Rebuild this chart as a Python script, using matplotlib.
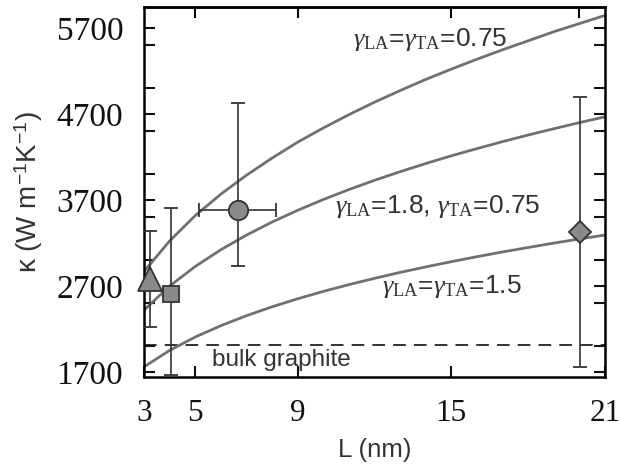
import matplotlib
matplotlib.use("Agg")
import matplotlib.pyplot as plt
from matplotlib.ticker import MultipleLocator

plt.rcParams['font.family'] = ['Liberation Sans', 'DejaVu Sans']
plt.rcParams['mathtext.fontset'] = 'custom'
plt.rcParams['mathtext.rm'] = 'Liberation Serif'
plt.rcParams['mathtext.it'] = 'Liberation Serif:italic'
plt.rcParams['mathtext.sf'] = 'Liberation Sans'

# model curves
L = [3, 4, 5, 6, 7, 8, 9, 10, 11, 12, 13, 14, 15, 16, 17, 18, 19, 20, 21]
k_075 = [2870, 3225, 3520, 3770, 3990, 4190, 4375, 4540, 4695, 4840,
         4975, 5105, 5225, 5340, 5450, 5555, 5660, 5755, 5850]
k_18 = [2420, 2700, 2928, 3123, 3293, 3445, 3582, 3707, 3823, 3931,
        4031, 4126, 4216, 4300, 4381, 4458, 4531, 4602, 4670]
k_15 = [1760, 1951, 2107, 2239, 2355, 2459, 2552, 2638, 2717, 2790,
        2859, 2923, 2984, 3042, 3097, 3149, 3200, 3248, 3294]

k_bulk = 2010

# experiments
tri_L, tri_k, tri_err = 3.22, 2780, 560
sq_L, sq_k, sq_lo, sq_hi = 4.04, 2610, 950, 1000
ci_L, ci_k, ci_xerr, ci_lo, ci_hi = 6.65, 3585, 1.5, 650, 1240
di_L, di_k, di_err = 20.02, 3330, 1575

fig = plt.figure(figsize=(6.2, 4.66), dpi=100)
ax = fig.add_axes([0.2323, 0.1916, 0.7435, 0.7934])

curve_col = '#707070'
for k in (k_075, k_18, k_15):
    ax.plot(L, k, color=curve_col, lw=2.0, zorder=2)

ax.axhline(k_bulk, color='#222222', lw=1.3, ls=(0, (7, 4.5)), zorder=1)

ebar = dict(color='#333333', elinewidth=1.2, capsize=5, capthick=1.2,
            mfc='#8a8a8a', mec='#333333', mew=1.3, zorder=4, clip_on=False)
ax.errorbar(tri_L, tri_k, yerr=tri_err, fmt='^', ms=17, **ebar)
ax.errorbar(sq_L, sq_k, yerr=[[sq_lo], [sq_hi]], fmt='s', ms=12, **ebar)
ax.errorbar(ci_L, ci_k, xerr=ci_xerr, yerr=[[ci_lo], [ci_hi]], fmt='o', ms=14, **ebar)
ax.errorbar(di_L, di_k, yerr=di_err, fmt='D', ms=11.5, **ebar)

txt = dict(fontsize=19, color='#333333', ha='center', va='center')
ax.text(14.17, 5564, r'$\gamma_{\rm LA}$=$\gamma_{\rm TA}$=0.75', **txt)
ax.text(14.48, 3623, r'$\gamma_{\rm LA}$=1.8, $\gamma_{\rm TA}$=0.75', **txt)
ax.text(15.01, 2692, r'$\gamma_{\rm LA}$=$\gamma_{\rm TA}$=1.5', **txt)
ax.text(5.64, 1845, 'bulk graphite', fontsize=17.5, color='#333333',
        ha='left', va='center')

ax.set_xlim(3, 21)
ax.set_ylim(1645, 5948)
ax.set_xticks([3, 5, 9, 15, 21])
ax.set_yticks([1700, 2700, 3700, 4700, 5700])
ax.yaxis.set_minor_locator(MultipleLocator(500))

ax.tick_params(which='both', direction='in', length=8, width=1.5,
               left=True, right=True, bottom=True, top=False, colors='#111111')
ax.tick_params(axis='y', labelsize=24, labelfontfamily='Liberation Serif', pad=15)
ax.tick_params(axis='x', labelsize=22.5, labelfontfamily='Liberation Serif', pad=16)

top = ax.secondary_xaxis('top')
top.set_xticks([5, 9, 15, 20])
top.tick_params(direction='in', length=8, width=1.5, labeltop=False)
top.spines['top'].set_linewidth(1.8)

for s in ax.spines.values():
    s.set_linewidth(1.8)

ax.set_xlabel('L (nm)', fontsize=18.5, color='#333333', labelpad=7)
ax.set_ylabel(r'κ (W m$^{\mathsf{-1}}$K$^{\mathsf{-1}}$)', fontsize=20,
              color='#333333', labelpad=8)

fig.savefig('out.png', dpi=100)
